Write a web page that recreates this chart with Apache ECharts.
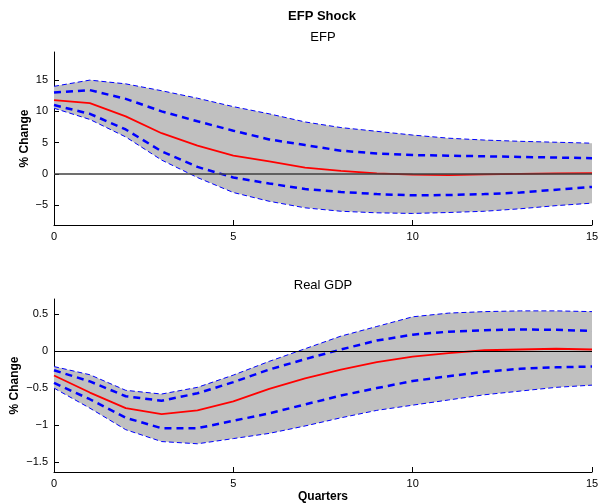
<!DOCTYPE html>
<html>
<head>
<meta charset="utf-8">
<script src="https://cdn.jsdelivr.net/npm/echarts@6/dist/echarts.min.js"></script>
<style>html,body{margin:0;padding:0;background:#fff}#c{width:598px;height:504px}</style>
</head>
<body>
<div id="c"></div>
<script>
const quarters = ['0','1','2','3','4','5','6','7','8','9','10','11','12','13','14','15'];

const efpMedian  = [11.8, 11.3, 9.2, 6.5, 4.5, 2.9, 2.0, 1.0, 0.45, 0.05, -0.15, -0.2, -0.1, 0.0, 0.05, 0.1];
const efpInnerUp = [13.0, 13.4, 12.0, 10.0, 8.4, 6.9, 5.5, 4.6, 3.7, 3.25, 3.0, 2.9, 2.8, 2.7, 2.6, 2.5];
const efpInnerLo = [11.0, 9.6, 7.1, 3.6, 1.1, -0.6, -1.55, -2.45, -2.9, -3.25, -3.45, -3.4, -3.25, -3.0, -2.55, -2.1];
const efpOuterUp = [14.0, 15.0, 14.4, 13.3, 12.1, 10.75, 9.6, 8.3, 7.4, 6.8, 6.2, 5.7, 5.4, 5.2, 5.05, 4.9];
const efpOuterLo = [10.5, 8.7, 5.9, 2.2, -0.6, -3.0, -4.4, -5.45, -6.0, -6.25, -6.35, -6.2, -6.0, -5.6, -5.1, -4.7];

const gdpMedian  = [-0.33, -0.56, -0.77, -0.85, -0.80, -0.68, -0.51, -0.37, -0.25, -0.15, -0.075, -0.03, 0.01, 0.02, 0.03, 0.02];
const gdpInnerUp = [-0.26, -0.41, -0.61, -0.67, -0.57, -0.42, -0.25, -0.11, 0.02, 0.14, 0.22, 0.26, 0.28, 0.29, 0.285, 0.27];
const gdpInnerLo = [-0.43, -0.65, -0.9, -1.04, -1.04, -0.94, -0.84, -0.72, -0.6, -0.5, -0.405, -0.34, -0.28, -0.24, -0.22, -0.21];
const gdpOuterUp = [-0.21, -0.32, -0.53, -0.58, -0.49, -0.325, -0.14, 0.03, 0.2, 0.33, 0.46, 0.51, 0.53, 0.54, 0.54, 0.53];
const gdpOuterLo = [-0.5, -0.77, -1.06, -1.22, -1.25, -1.18, -1.11, -1.01, -0.9, -0.8, -0.73, -0.66, -0.59, -0.54, -0.49, -0.46];

const efpTicks = [-5, 0, 5, 10, 15];
const gdpTicks = [-1.5, -1, -0.5, 0, 0.5];

const FONT = 'Liberation Sans, Arial, Helvetica, sans-serif';
const fmt = v => String(v).replace('-', '\u2212');

function bandSeries(idx, up, lo, zeroStyle) {
  const diff = up.map((u, i) => +(u - lo[i]).toFixed(4));
  return [
    { type: 'line', xAxisIndex: idx, yAxisIndex: idx, data: lo, stack: 'band' + idx, stackStrategy: 'all',
      symbol: 'none', lineStyle: { opacity: 0 }, silent: true, z: 1 },
    { type: 'line', xAxisIndex: idx, yAxisIndex: idx, data: diff, stack: 'band' + idx, stackStrategy: 'all',
      symbol: 'none', lineStyle: { opacity: 0 }, areaStyle: { color: '#c0c0c0', opacity: 1 }, silent: true, z: 1,
      markLine: { silent: true, symbol: 'none', label: { show: false }, lineStyle: zeroStyle, data: [{ yAxis: 0 }] } },
    { type: 'line', xAxisIndex: idx, yAxisIndex: idx, data: up, symbol: 'none', z: 2,
      lineStyle: { color: '#0000ff', width: 1, type: [5, 3] } },
    { type: 'line', xAxisIndex: idx, yAxisIndex: idx, data: lo, symbol: 'none', z: 2,
      lineStyle: { color: '#0000ff', width: 1, type: [5, 3] } }
  ];
}
function innerSeries(idx, up, lo, med) {
  return [
    { type: 'line', xAxisIndex: idx, yAxisIndex: idx, data: up, symbol: 'none', z: 3,
      lineStyle: { color: '#0000ff', width: 2.5, type: [7, 5] } },
    { type: 'line', xAxisIndex: idx, yAxisIndex: idx, data: lo, symbol: 'none', z: 3,
      lineStyle: { color: '#0000ff', width: 2.5, type: [7, 5] } },
    { type: 'line', xAxisIndex: idx, yAxisIndex: idx, data: med, symbol: 'none', z: 4,
      lineStyle: { color: '#ff0000', width: 1.8 } }
  ];
}

function xAxis(idx) {
  return {
    type: 'category', gridIndex: idx, data: quarters, boundaryGap: false,
    axisLine: { show: true, onZero: false, lineStyle: { color: '#000', width: 1 } },
    axisTick: { show: true, inside: true, length: 5, interval: 4, lineStyle: { color: '#000' } },
    axisLabel: { color: '#000', fontSize: 11, fontFamily: FONT, margin: 6, interval: 4 },
    splitLine: { show: false }
  };
}
function yAxis(idx, min, max, ticks, gap) {
  return {
    type: 'value', gridIndex: idx, min: min, max: max,
    name: '% Change', nameLocation: 'middle', nameGap: gap, nameRotate: 90, nameMoveOverlap: false,
    nameTextStyle: { color: '#000', fontSize: 12, fontWeight: 'bold', fontFamily: FONT },
    axisLine: { show: true, onZero: false, lineStyle: { color: '#000', width: 1 } },
    axisTick: { show: true, inside: true, length: 5, customValues: ticks, lineStyle: { color: '#000' } },
    axisLabel: { color: '#000', fontSize: 11, fontFamily: FONT, margin: 6, customValues: ticks, formatter: fmt },
    splitLine: { show: false }
  };
}

const chart = echarts.init(document.getElementById('c'), null, { renderer: 'canvas' });
chart.setOption({
  animation: false,
  backgroundColor: '#fff',
  grid: [
    { left: 54, right: 6, top: 52, height: 173, containLabel: false, outerBoundsMode: 'none' },
    { left: 54, right: 6, top: 299, height: 173, containLabel: false, outerBoundsMode: 'none' }
  ],
  xAxis: [xAxis(0), xAxis(1)],
  yAxis: [yAxis(0, -8.2, 19.5, efpTicks, 23), yAxis(1, -1.63, 0.7, gdpTicks, 33)],
  graphic: [
    { type: 'text', x: 322, y: 16, style: { text: 'EFP Shock', textAlign: 'center', textVerticalAlign: 'middle', font: 'bold 13px ' + FONT, fill: '#000' } },
    { type: 'text', x: 323, y: 37, style: { text: 'EFP', textAlign: 'center', textVerticalAlign: 'middle', font: '13px ' + FONT, fill: '#000' } },
    { type: 'text', x: 323, y: 285, style: { text: 'Real GDP', textAlign: 'center', textVerticalAlign: 'middle', font: '13px ' + FONT, fill: '#000' } },
    { type: 'text', x: 323, y: 497, style: { text: 'Quarters', textAlign: 'center', textVerticalAlign: 'middle', font: 'bold 12px ' + FONT, fill: '#000' } }
  ],
  series: [
    ...bandSeries(0, efpOuterUp, efpOuterLo, { color: '#404040', width: 1.5, type: 'solid' }),
    ...innerSeries(0, efpInnerUp, efpInnerLo, efpMedian),
    ...bandSeries(1, gdpOuterUp, gdpOuterLo, { color: '#000', width: 1, type: 'solid' }),
    ...innerSeries(1, gdpInnerUp, gdpInnerLo, gdpMedian)
  ]
});
</script>
</body>
</html>
